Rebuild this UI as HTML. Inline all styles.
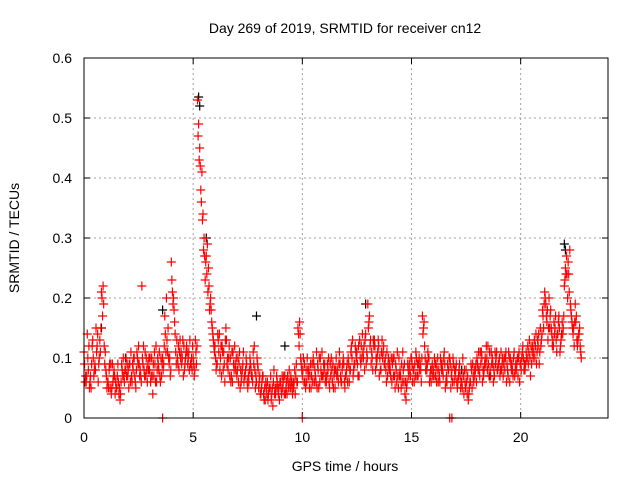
<!DOCTYPE html>
<html><head><meta charset="utf-8"><style>
html,body{margin:0;padding:0;background:#fff}
svg{display:block;font-family:"Liberation Sans",sans-serif}
</style></head><body>
<svg id="chart" width="640" height="480" viewBox="0 0 640 480">
<rect width="640" height="480" fill="#fff"/>
<text x="345" y="33" font-size="14" text-anchor="middle">Day 269 of 2019, SRMTID for receiver cn12</text>
<text x="345" y="471" font-size="14" text-anchor="middle">GPS time / hours</text>
<text transform="translate(19,238) rotate(-90)" font-size="14" text-anchor="middle">SRMTID / TECUs</text>
<g id="grid"></g>
<g id="ticks"></g>
<g id="marks"></g>
<rect x="84" y="58" width="524" height="360" fill="none" stroke="#000" stroke-width="1"/>
</svg>
<script>
const xTicks=[0,5,10,15,20];
const yTicks=[0,0.1,0.2,0.3,0.4,0.5,0.6];
const yTickLabels=["0","0.1","0.2","0.3","0.4","0.5","0.6"];
const seriesAStart=0, seriesBStart=0.05, seriesCStart=0.025, seriesDStart=0.075, timeStep=0.1;
const seriesA=[
.11,.06,.08,.07,.13,.09,.12,.10,.21,.19,
.08,.06,.05,.09,.07,.05,.04,.06,.10,.08,
.07,.09,.06,.10,.08,.12,.07,.09,.11,.06,
.08,.10,.07,.12,.09,.06,.10,.17,.13,.09,
.26,.20,.11,.09,.13,.10,.08,.12,.11,.09,
.10,.13,.53,.45,.41,.30,.27,.25,.20,.14,
.12,.09,.14,.07,.11,.15,.08,.10,.06,.12,
.07,.09,.06,.11,.08,.05,.10,.07,.12,.06,
.05,.04,.07,.03,.06,.05,.04,.08,.05,.04,
.06,.05,.07,.04,.08,.06,.05,.07,.15,.14,
.07,.09,.06,.08,.05,.10,.07,.09,.06,.11,
.08,.06,.10,.07,.09,.05,.08,.11,.06,.09,
.07,.10,.08,.13,.09,.11,.07,.12,.10,.14,
.19,.12,.10,.13,.09,.12,.08,.11,.10,.07,
.09,.06,.10,.08,.05,.07,.11,.04,.06,.09,
.10,.08,.11,.07,.09,.17,.12,.08,.10,.06,
.08,.07,.10,.06,.09,.11,.07,.08,.05,.10,
.07,.05,.09,.06,.04,.08,.03,.06,.09,.07,
.10,.08,.11,.07,.09,.12,.08,.10,.07,.11,
.09,.11,.07,.10,.08,.06,.09,.11,.08,.10,
.09,.12,.08,.10,.13,.09,.11,.14,.12,.15,
.18,.21,.16,.20,.15,.12,.17,.14,.11,.16,
.22,.27,.24,.18,.14,.19,.12,.15];
const seriesB=[
.06,.14,.05,.09,.07,.15,.06,.11,.17,.09,
.05,.08,.04,.07,.06,.09,.03,.08,.06,.07,
.05,.11,.08,.06,.10,.07,.22,.08,.10,.08,
.06,.04,.09,.08,.11,.07,.09,.11,.15,.07,
.21,.16,.13,.08,.11,.07,.10,.09,.13,.08,
.07,.09,.49,.38,.34,.23,.29,.18,.16,.12,
.08,.13,.10,.11,.06,.09,.12,.07,.09,.08,
.10,.05,.08,.07,.09,.06,.08,.11,.05,.09,
.07,.06,.03,.05,.04,.07,.02,.05,.06,.03,
.04,.07,.05,.06,.05,.04,.08,.06,.12,.09,
.10,.05,.08,.07,.09,.06,.11,.05,.08,.07,
.06,.09,.05,.08,.07,.10,.06,.07,.09,.05,
.09,.06,.12,.08,.11,.07,.10,.14,.08,.11,
.16,.09,.13,.08,.11,.10,.13,.09,.06,.10,
.07,.10,.05,.11,.07,.09,.06,.03,.08,.07,
.06,.09,.07,.10,.06,.15,.08,.11,.07,.09,
.10,.06,.08,.09,.07,.05,.09,.10,.08,.06,
.09,.07,.05,.10,.06,.04,.05,.08,.06,.09,
.08,.11,.06,.09,.10,.07,.11,.06,.09,.08,
.07,.09,.10,.06,.11,.09,.07,.08,.10,.06,
.10,.08,.11,.09,.07,.12,.10,.11,.09,.13,
.15,.19,.13,.17,.12,.14,.11,.17,.13,.15,
.25,.20,.28,.16,.12,.17,.14,.11];
const seriesC=[
.09,.07,.12,.05,.10,.08,.14,.13,.20,.12,
.07,.05,.09,.06,.04,.07,.05,.09,.07,.10,
.08,.06,.09,.07,.11,.09,.06,.12,.07,.09,
.10,.07,.11,.06,.08,.10,.08,.14,.11,.10,
.23,.18,.09,.12,.10,.13,.09,.11,.08,.10,
.09,.11,.47,.42,.33,.27,.24,.22,.18,.13,
.10,.14,.08,.12,.09,.13,.10,.06,.11,.09,
.08,.11,.07,.06,.10,.07,.09,.06,.08,.10,
.06,.05,.04,.06,.03,.05,.05,.04,.07,.05,
.05,.06,.04,.07,.06,.05,.06,.09,.14,.10,
.08,.06,.10,.05,.07,.09,.06,.08,.10,.07,
.09,.07,.06,.10,.05,.08,.07,.09,.08,.06,
.08,.09,.11,.07,.12,.09,.13,.10,.12,.09,
.15,.13,.08,.12,.10,.07,.11,.12,.08,.09,
.08,.09,.07,.06,.10,.05,.08,.06,.09,.08,
.09,.06,.10,.09,.08,.14,.10,.09,.06,.08,
.07,.09,.06,.10,.08,.09,.06,.10,.07,.09,
.08,.06,.07,.05,.08,.06,.04,.09,.07,.08,
.09,.07,.10,.08,.12,.09,.07,.09,.11,.08,
.10,.08,.09,.11,.07,.10,.08,.07,.09,.11,
.08,.10,.09,.12,.10,.11,.13,.09,.14,.12,
.17,.20,.18,.15,.14,.16,.13,.16,.12,.14,
.23,.24,.21,.17,.15,.16,.13,.12];
const seriesD=[
.07,.10,.06,.12,.08,.11,.09,.15,.22,.11,
.06,.09,.05,.08,.05,.06,.04,.07,.08,.09,
.09,.07,.10,.05,.09,.08,.10,.07,.08,.10,
.07,.09,.06,.10,.07,.09,.12,.20,.10,.08,
.19,.14,.10,.11,.09,.12,.11,.10,.09,.12,
.08,.12,.43,.36,.28,.26,.21,.19,.15,.11,
.09,.11,.12,.08,.13,.10,.07,.11,.08,.10,
.06,.08,.09,.07,.06,.08,.07,.09,.07,.08,
.04,.07,.05,.04,.05,.03,.06,.04,.05,.06,
.07,.04,.06,.05,.07,.06,.04,.06,.16,.08,
.06,.08,.07,.09,.06,.08,.05,.10,.07,.09,
.07,.08,.09,.06,.08,.07,.09,.06,.10,.07,
.06,.08,.10,.09,.10,.12,.09,.11,.13,.10,
.17,.11,.12,.10,.13,.08,.10,.09,.11,.08,
.10,.07,.09,.07,.08,.06,.09,.05,.07,.10,
.08,.07,.09,.08,.10,.16,.09,.10,.08,.07,
.09,.08,.07,.08,.10,.06,.08,.09,.06,.08,
.06,.08,.06,.07,.05,.07,.06,.05,.08,.06,
.11,.09,.08,.10,.08,.11,.09,.08,.10,.09,
.08,.10,.08,.09,.10,.08,.10,.09,.07,.09,
.11,.09,.10,.11,.12,.10,.12,.13,.11,.14,
.19,.17,.15,.18,.13,.15,.14,.15,.14,.17,
.24,.26,.19,.15,.16,.13,.14,.10];
const blackTimes=[0.8,1.9,3.6,5.25,5.3,5.6,7.9,9.2,12.9,17.3,18.6,19.9,22.0,22.05];
const blackValues=[0.15,0.10,0.18,0.535,0.52,0.30,0.17,0.12,0.19,0.08,0.07,0.10,0.29,0.28];
const zeroTimes=[3.6,10.0,16.75,16.85];
const zeroValues=[0,0,0,0];

const X0=84,X1=608,Y0=418,Y1=58,XMAX=24,YMAX=0.6;
const xs=t=>X0+(X1-X0)*t/XMAX;
const ys=v=>Y0-(Y0-Y1)*v/YMAX;
const NS="http://www.w3.org/2000/svg";
const grid=document.getElementById('grid'),ticks=document.getElementById('ticks'),marks=document.getElementById('marks');
function mk(tag,attrs,parent){const e=document.createElementNS(NS,tag);for(const k in attrs)e.setAttribute(k,attrs[k]);parent.appendChild(e);return e;}
xTicks.forEach(t=>{
 const x=xs(t);
 if(t>0){const g=mk('line',{x1:x,x2:x,y1:Y1,y2:Y0,stroke:'#a0a0a0','stroke-dasharray':'2,3'},grid);
 
 }
 mk('line',{x1:x,x2:x,y1:Y0,y2:Y0-6,stroke:'#000'},ticks);
 mk('line',{x1:x,x2:x,y1:Y1,y2:Y1+6,stroke:'#000'},ticks);
 const l=mk('text',{x:x,y:Y0+24,'font-size':14,'text-anchor':'middle'},ticks);l.textContent=t;
 
 
});
yTicks.forEach((v,i)=>{
 const y=ys(v);
 if(v>0&&v<YMAX){const g=mk('line',{x1:X0,x2:X1,y1:y,y2:y,stroke:'#a0a0a0','stroke-dasharray':'2,3'},grid);
 
 }
 mk('line',{x1:X0,x2:X0+6,y1:y,y2:y,stroke:'#000'},ticks);
 mk('line',{x1:X1,x2:X1-6,y1:y,y2:y,stroke:'#000'},ticks);
 const l=mk('text',{x:X0-12,y:y+5,'font-size':14,'text-anchor':'end'},ticks);l.textContent=yTickLabels[i];
 
 
});
function cross(t,v,color,name){
 const x=xs(t),y=ys(v),s=4.5;
 const p=mk('path',{d:`M${x-s} ${y}H${x+s}M${x} ${y-s}V${y+s}`,stroke:color,'stroke-width':1.2,fill:'none'},marks);
 
 
}
blackTimes.forEach((t,i)=>cross(t,blackValues[i],'#000','black-point'));
[[seriesA,seriesAStart],[seriesB,seriesBStart],[seriesC,seriesCStart],[seriesD,seriesDStart]].forEach(([arr,start])=>{
 arr.forEach((v,i)=>cross(start+i*timeStep,v,'#ff0000','red-point'));
});
zeroTimes.forEach((t,i)=>cross(t,zeroValues[i],'#ff0000','zero-point'));
</script>
</body></html>
